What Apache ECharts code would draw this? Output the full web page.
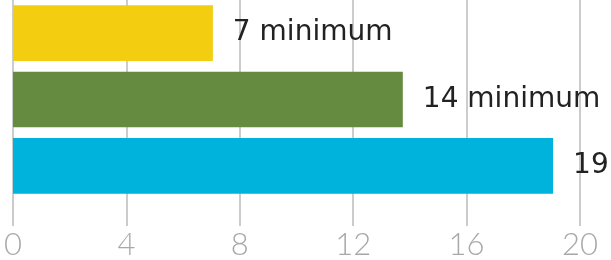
<!DOCTYPE html>
<html>
<head>
<meta charset="utf-8">
<script src="https://cdn.jsdelivr.net/npm/echarts@6/dist/echarts.min.js"></script>
<style>
html, body { margin: 0; padding: 0; background: #fff; }
#chart { width: 611px; height: 260px; }
</style>
</head>
<body>
<div id="chart"></div>
<script>
// data
var categories = ['A', 'B', 'C'];
var values = [7.05, 13.75, 19.05];
var barLabels = ['7 minimum', '14 minimum', '19'];
var barColors = ['#F3CD10', '#658B40', '#00B3DC'];
var tickValues = [0, 4, 8, 12, 16, 20];

var chart = echarts.init(document.getElementById('chart'));

var seriesData = [];
for (var i = 0; i < values.length; i++) {
    seriesData.push({
        value: values[i],
        itemStyle: { color: barColors[i] },
        label: { formatter: barLabels[i] }
    });
}

var option = {
    animation: false,
    grid: {
        left: 13,
        right: 31,
        top: -1.5,
        bottom: 57.5
    },
    xAxis: {
        type: 'value',
        min: tickValues[0],
        max: tickValues[tickValues.length - 1],
        interval: 4,
        axisLine: { show: false },
        axisTick: {
            show: true,
            length: 27,
            lineStyle: { color: '#bbbbbb', width: 1.5 }
        },
        splitLine: {
            show: true,
            lineStyle: { color: '#bbbbbb', width: 1.5 }
        },
        axisLabel: {
            margin: 30,
            color: '#a8a8a8',
            fontSize: 31,
            fontWeight: 300,
            fontFamily: 'Lato'
        }
    },
    yAxis: {
        type: 'category',
        data: categories,
        inverse: true,
        show: false
    },
    series: [{
        type: 'bar',
        data: seriesData,
        barCategoryGap: '16%',
        label: {
            show: true,
            position: 'right',
            distance: 20,
            color: '#222222',
            fontSize: 28,
            fontFamily: 'DejaVu Sans'
        }
    }]
};

chart.setOption(option);
</script>
</body>
</html>
